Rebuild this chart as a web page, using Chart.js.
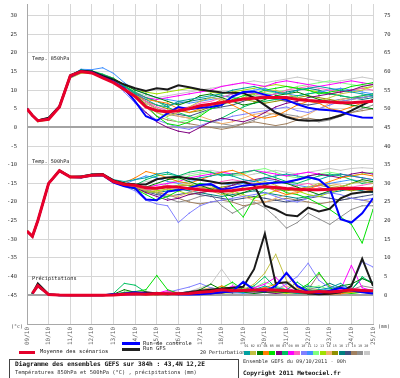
<!DOCTYPE html>
<html>
<head>
<meta charset="utf-8">
<script src="https://cdn.jsdelivr.net/npm/chart.js@4.4.0/dist/chart.umd.min.js"></script>
<style>
  html, body { margin: 0; padding: 0; background: #fff; }
  #wrap { position: relative; width: 400px; height: 378px; overflow: hidden; font-family: "DejaVu Sans Mono", monospace; color: #222; }
  #wrap canvas { position: absolute; left: 0; top: 0; }
  .t { position: absolute; white-space: nowrap; line-height: 1; }
  .bar { position: absolute; }
  #title { position: absolute; left: 9px; top: 359px; width: 230px; height: 24px; border: 1px solid #444; box-sizing: border-box; }
</style>
</head>
<body>
<div id="wrap">
  <canvas id="chart" width="400" height="350"></canvas>
  <div class="t" style="left:32px;top:56px;font-size:5.2px">Temp. 850hPa</div>
  <div class="t" style="left:32px;top:159px;font-size:5.2px">Temp. 500hPa</div>
  <div class="t" style="left:32px;top:276px;font-size:5.3px">Précipitations</div>
  <div class="t" style="left:11px;top:324px;font-size:5px;color:#444">(°c)</div>
  <div class="t" style="left:378px;top:324px;font-size:5px;color:#444">(mm)</div>

  <div class="bar" style="left:19px;top:351px;width:16px;height:3px;background:#e4002b"></div>
  <div class="t" style="left:40px;top:349px;font-size:5.4px">Moyenne des scénarios</div>
  <div class="bar" style="left:122px;top:342px;width:18px;height:3px;background:#0000ff"></div>
  <div class="bar" style="left:122px;top:348px;width:18px;height:3px;background:#222"></div>
  <div class="t" style="left:143px;top:341px;font-size:5.4px">Run de controle</div>
  <div class="t" style="left:143px;top:346px;font-size:5.4px">Run GFS</div>
  <div class="t" style="left:200px;top:350px;font-size:5px">20 Perturbations</div>
  <div id="boxes"></div>

  <div id="title"></div>
  <div class="t" style="left:15px;top:361px;font-size:6.2px;font-weight:bold;color:#111">Diagramme des ensembles GEFS sur 384h : 43,4N 12,2E</div>
  <div class="t" style="left:15px;top:370px;font-size:5.4px;color:#333">Températures 850hPa et 500hPa (°C) , précipitations (mm)</div>
  <div class="t" style="left:243px;top:359px;font-size:5.2px;color:#333">Ensemble GEFS du 09/10/2011 - 00h</div>
  <div class="t" style="left:243px;top:370px;font-size:6px;font-weight:bold;color:#111">Copyright 2011 Meteociel.fr</div>
</div>
<script>
// forecast hours (h0, h6, then every 12h up to 384h)
const hours = [0, 6, 12, 24, 36, 48, 60, 72, 84, 96, 108, 120, 132, 144, 156, 168, 180, 192,
  204, 216, 228, 240, 252, 264, 276, 288, 300, 312, 324, 336, 348, 360, 372, 384];
const dayLabels = ['09/10', '10/10', '11/10', '12/10', '13/10', '14/10', '15/10', '16/10', '17/10',
  '18/10', '19/10', '20/10', '21/10', '22/10', '23/10', '24/10', '25/10'];
const leftTicks = [30, 25, 20, 15, 10, 5, 0, -5, -10, -15, -20, -25, -30, -35, -40, -45];
const rightTicks = [75, 70, 65, 60, 55, 50, 45, 40, 35, 30, 25, 20, 15, 10, 5, 0];
const memberNames = ['01','02','03','04','05','06','07','08','09','10','11','12','13','14','15','16','17','18','19','20'];
const memberColors = ['#00a0a0','#c0c040','#008000','#ff8000','#00e000','#800080','#00c060','#ff00ff','#ff60c0','#8080ff',
  '#4090ff','#80ff80','#a0e000','#f0b070','#909000','#008080','#405080','#a08060','#909090','#c8c8c8'];

// 850 hPa temperature (°C)
const t850Mean = [5,3.2,1.8,2.2,5.5,13.8,15,14.6,13.3,12,10.2,8.3,5.5,4.5,4.2,4.5,5,5.8,6.2,6.7,7.1,7.6,7.8,8,8,8,7.5,7.2,7,6.8,6.6,6.6,6.8,7];
const t850Ctrl = [5,3.2,1.8,2.3,5.5,13.6,15,14.8,13.5,12.3,10.5,7,3,1.8,3.8,5.5,4.9,5.3,5.5,6,8.3,9.5,9.6,8.8,8,7.4,6.2,5.3,4.8,4.6,4.2,3.3,2.7,2.6];
const t850Gfs = [5,3.3,1.9,2.6,5.7,14,15.2,15,13.8,12.8,11.5,10.5,9.8,10.5,10.2,11.3,10.8,10.2,9.8,9.4,9.3,9.2,8,6,4,2.8,2,1.8,1.9,2.4,3.2,4.5,6,7.4];
const t850Perts = [
  [5,3.3,2,2.5,5.8,14,15.5,15,14,13,11, 9,7.5,6,5.5,7,7.5,8,8.5,9,10,10.5,11,10,9.5,9,10,10.5,11,10.5,10,9.5,9,8.5],
  [5,3.1,1.5,2,5.2,13.2,14.5,14.5,13.5,12,10, 8,6,4,3,4,5.5,7,8,7.5,7,8,9,9.5,10,9,8,7.5,7,8,9,9.5,10,11],
  [5,3.2,1.8,2.4,5.5,13.6,15,15,14,13,11.5, 10,9,8,7,6,7,8.5,9,8,7,6,6.5,7.5,8.5,9,9.5,8.5,7.5,7,6.5,6,5.5,5],
  [5,3.3,2,2.6,5.6,13.7,15.2,14.8,13.2,12,10.5, 8.5,7.5,7,6.5,5,4,5,6,7.5,6,4.5,3,2.5,3,4.5,6,7,6.5,5,4.5,5.5,6.5,7.5],
  [5,3.1,1.6,2.1,5.2,13.4,14.8,14.6,13.8,12.8,11, 9,6,3,1,0.5,1.5,3,5,6,7.5,8.5,9,10,10.5,11,10.5,10,9,9.5,10,11,11.5,12],
  [5,3.2,1.8,2.2,5.3,13.5,15,14.5,13.5,12.3,10, 7,4,1.5,0,-1,-1.5,0,1.5,2.5,2,1.5,2.5,4,5.5,6.5,7,8,8.5,9,9.5,10,11,11.5],
  [5,3.3,2,2.5,5.6,13.7,15.1,15.2,14.3,13.2,11.2, 9.5,8,7,5.5,4,3,2,1.5,2.5,4,5.5,6.5,7,7.5,8,8.5,9,9.5,9,8.5,8,8.5,9],
  [5,3.2,1.7,2.3,5.5,13.6,15,14.9,14,13,11, 9,8,7.5,8,8.5,9,9.5,10,11,11.5,12,11.5,11,12,12.5,12,11.5,11,11.5,12,12.5,12,11.5],
  [5,3.3,1.9,2.4,5.6,13.7,15.3,15.1,13.9,12.7,10.8, 8.8,7,5.5,4.5,5,5.5,6.5,7,8,9,9.5,9,8.5,9,10,10.5,11,10.5,10,9.5,10,10.5,10],
  [5,3.2,1.8,2.2,5.4,13.5,15,14.7,13.5,12.2,9.5, 6.5,4,2,1,0,-0.5,0.5,1.5,2,3,3.5,4,4.5,5,5.5,4.5,4,5,6,7,7.5,8,8.5],
  [5,3.3,2,2.6,5.8,13.9,15.6,15.5,16,14.5,12, 10,9,8,7.5,7,6.5,7,7.5,8,9,9.5,10,10.5,9.5,9,8.5,9,9.5,10,10.5,10,9.5,9],
  [5,3.1,1.7,2.2,5.2,13.3,14.8,14.6,13.6,12.5,10.5, 8,6,4,2.5,1.5,2,3.5,5,6,7,8,8.5,9,9.5,10,11,11.5,12,12.5,12,11.5,11,11.5],
  [5,3.3,1.9,2.5,5.7,13.9,15.3,15,14.2,13.2,11.5, 10,9.5,9,9.5,10,10.5,10,9.5,9,9.5,10,10.5,11,11.5,11,10.5,10,9.5,9,9.5,10,10.5,11],
  [5,3.2,1.8,2.3,5.5,13.6,15,15,14,12.8,10.8, 8.5,6.5,5,4,3,2.5,3,2,1,1.5,2.5,3.5,4,3.5,3,2.5,3.5,5,6.5,7.5,8,8.5,9],
  [5,3.2,1.8,2.4,5.5,13.6,15.1,14.9,13.8,12.6,10.6, 8.6,7,6,5,4.5,4,4.5,5.5,6.5,7,7.5,7,6.5,7,7.5,8,8.5,8,7.5,7,7.5,8,8.5],
  [5,3.3,2,2.4,5.6,13.7,15.1,14.9,13.9,12.9,11.2, 9.2,8,7,6,6.5,7,7.5,8,8.5,8,7.5,8,8.5,9,9.5,10,10.5,10,9,8.5,8,7.5,8],
  [5,3.2,1.8,2.3,5.4,13.5,14.9,14.7,13.7,12.4,10.4, 8.4,6.5,5,4,3.5,3,4,5,5.5,6,7,8,8,7.5,7,6.5,6,6.5,7,7.5,8,8,8.5],
  [5,3.2,1.8,2.3,5.5,13.6,15,14.8,13.8,12.5,10.5, 8,5.5,3,2,1.5,1,0.5,0,-0.5,0,1,1.5,1,0.5,1,2,2.5,2,2.5,3.5,4,4.5,5],
  [5,3.3,1.9,2.4,5.6,13.7,15.2,15,14,12.9,11, 9,7,5,3.5,3,2.5,2,1.5,1,0.5,1,2,3,4,3.5,3,2,1.5,2,3,4,5,6],
  [5,3.2,1.8,2.3,5.5,13.6,15,15,14.2,13,11, 9.5,8.5,8,8.5,9,9.5,10,10.5,11,11.5,12,12.5,12,12.5,13,13.5,13,12.5,12,12.5,13,13.5,13]
];

// 500 hPa temperature (°C)
const t500Mean = [-27.8,-29.2,-25,-15,-11.6,-13.3,-13.3,-12.8,-12.7,-14.5,-15.3,-15.5,-16.2,-16.3,-15.9,-16,-16.4,-16.7,-17,-17.1,-16.9,-16.6,-16.2,-15.9,-16.1,-16.4,-16.6,-16.7,-16.7,-16.6,-16.4,-16.4,-16.4,-16.5];
const t500Ctrl = [-27.8,-29.2,-25,-15,-11.7,-13.3,-13.4,-12.9,-12.8,-14.8,-15.8,-16.3,-19.3,-19.5,-17.2,-16.8,-16.2,-15.4,-15.2,-16.7,-16.2,-15.6,-15.3,-15,-14.8,-14.6,-14,-13.3,-14,-16.4,-24.6,-25.5,-23,-19];
const t500Gfs = [-27.8,-29.3,-25,-15,-11.5,-13.2,-13.2,-12.6,-12.5,-14.2,-15,-15.2,-15.3,-13.9,-13.4,-13.2,-13.7,-14,-14.5,-15,-14.8,-14.6,-15.5,-21,-22,-23.5,-23.8,-21.5,-22.5,-21.8,-19,-17.8,-17.4,-17.2];
const t500Perts = [
  [-28,-29.3,-25.2,-15.2,-11.8,-13.2,-13,-12.5,-12.5,-14,-14.5, -14,-13.5,-12.5,-12,-13,-14,-13.5,-13,-12.5,-13, -14,-14.5,-13.5,-13,-12.5,-13,-13.5,-14,-13,-12.5, -13,-13.5,-14],
  [-27.6,-29,-24.8,-14.8,-11.5,-13.5,-13.5,-13,-13,-14.8,-15.5, -16,-17,-17.5,-16.5,-15.5,-15,-16,-17,-18,-17.5, -16,-15,-14.5,-15.5,-16.5,-17,-16,-15,-15.5,-16, -15,-14.5,-15],
  [-27.8,-29.2,-25,-15,-11.6,-13.4,-13.4,-12.9,-12.8,-14.4,-15, -15.5,-16,-15,-14,-13.5,-14.5,-15.5,-16.5,-17.5,-18.5, -17.5,-16.5,-15.5,-14.5,-15,-16,-17,-18,-17,-16, -15,-14,-14.5],
  [-27.7,-29.1,-24.9,-14.9,-11.6,-13.1,-13.2,-12.7,-12.6,-14.2,-14.8, -13.5,-11.8,-12.5,-13.5,-14.5,-15,-14,-13,-12,-11.5, -12.5,-14,-15.5,-17,-18,-17.5,-16.5,-15.5,-14.5,-13.5, -13,-12.5,-13],
  [-27.9,-29.3,-25.1,-15.1,-11.8,-13.3,-13.4,-12.9,-12.9,-14.7,-15.7, -16.5,-18,-19.5,-18.5,-17,-16,-15,-15.5,-17,-21, -24,-19,-16.5,-16,-17.5,-18,-19,-20.5,-22,-24, -26,-31,-22],
  [-27.8,-29.2,-25,-15,-11.7,-13.2,-13.3,-12.8,-12.7,-14.6,-15.4, -16,-17.5,-18.5,-19.5,-19,-18,-17.5,-17,-16.5,-15.5, -14.5,-14,-13.5,-14,-15,-14,-13,-12.5,-13,-13.5, -12.5,-12,-12.5],
  [-27.8,-29.2,-25,-15,-11.6,-13.3,-13.3,-12.7,-12.6,-14.3,-15, -15.5,-14,-13,-12.5,-13,-12,-11.5,-12,-13,-12.5, -12,-11.5,-12.5,-13.5,-14.5,-15,-14,-13,-12.5,-13, -14,-15,-14.5],
  [-27.7,-29.1,-24.9,-14.9,-11.5,-13.2,-13.2,-12.6,-12.5,-14.3,-15.1, -15.8,-16,-15.5,-15,-14.5,-13.5,-13,-12.5,-12,-12.5, -12,-11.5,-12,-12.5,-13,-12.5,-12,-12.5,-13,-12.5, -13,-13.5,-14],
  [-27.8,-29.2,-25,-15,-11.7,-13.4,-13.4,-12.8,-12.7,-14.5,-15.4, -16.2,-16.8,-16,-15.5,-16,-16.5,-16,-15.5,-14.5,-14, -14.5,-15,-16,-17,-16.5,-15.5,-15,-16,-17,-16.5, -16,-15.5,-15],
  [-27.9,-29.3,-25.1,-15.1,-11.7,-13.3,-13.4,-12.9,-12.9,-14.8,-15.8, -17,-19.5,-20.5,-21,-25.5,-23,-21,-20,-19.5,-19, -18.5,-18,-17.5,-18.5,-19.5,-20,-19,-18,-17.5,-18, -19,-19.5,-19],
  [-27.8,-29.2,-25,-15,-11.7,-13.3,-13.3,-12.8,-12.7,-14.5,-15.2, -14,-13,-13.5,-14.5,-15,-14.5,-14,-14.5,-15,-15.5, -15,-14.5,-14,-14.5,-15,-15.5,-16,-15.5,-15,-14.5, -14,-14.5,-15],
  [-27.6,-29,-24.8,-14.8,-11.5,-13.1,-13.1,-12.6,-12.5,-14.2,-14.9, -15.5,-16,-16.5,-15,-14,-13,-12.5,-12,-12.5,-13, -12.5,-11.5,-11,-12,-13,-13.5,-13,-12.5,-12,-12.5, -13,-12.5,-12],
  [-27.9,-29.3,-25.1,-15.1,-11.8,-13.4,-13.5,-13,-12.9,-14.7,-15.6, -16.5,-17.5,-17,-16.5,-17,-18,-17.5,-17,-16.5,-17, -18,-19,-18,-17,-16.5,-17,-18,-18.5,-17.5,-16.5, -16,-16.5,-17],
  [-27.8,-29.2,-25,-15,-11.7,-13.3,-13.3,-12.7,-12.6,-14.4,-15.2, -15.8,-16.5,-17,-18,-18.5,-17.5,-16.5,-16,-16.5,-17.5, -18.5,-19.5,-20,-19,-18,-17,-16,-15.5,-15,-15.5, -16,-16.5,-17],
  [-27.7,-29.1,-24.9,-14.9,-11.6,-13.2,-13.2,-12.7,-12.6,-14.4,-15.2, -16,-16.8,-16.5,-16,-15.5,-15.5,-16,-16.5,-16,-15.5, -15,-15.5,-16,-16.5,-17,-16.5,-16,-15.5,-16,-16.5, -17,-16.5,-16],
  [-27.8,-29.2,-25,-15,-11.7,-13.3,-13.3,-12.8,-12.7,-14.5,-15.3, -16,-17,-17.5,-17,-16.5,-17,-17.5,-18,-18.5,-18, -17.5,-17,-17.5,-18,-18.5,-19,-18.5,-18,-17.5,-17, -16.5,-17,-17.5],
  [-27.9,-29.3,-25.1,-15.1,-11.8,-13.4,-13.4,-12.9,-12.8,-14.6,-15.5, -16.3,-17.2,-18,-18.5,-18,-17.5,-18,-18.5,-19,-19.5, -19,-18.5,-19,-19.5,-20,-19.5,-19,-18.5,-19,-19.5, -19,-18.5,-18],
  [-27.8,-29.2,-25,-15,-11.7,-13.3,-13.3,-12.8,-12.7,-14.5,-15.3, -16.2,-17,-17.5,-18,-19,-20,-20.5,-20,-19.5,-20, -21,-20.5,-20,-19.5,-19,-19.5,-20,-20.5,-20,-19.5, -19,-19.5,-20],
  [-27.8,-29.2,-25,-15,-11.6,-13.2,-13.3,-12.8,-12.7,-14.5,-15.3, -16,-16.5,-17.5,-19,-20,-19.5,-18.5,-18,-21,-23, -21.5,-20,-21.5,-24,-27,-25.5,-23,-24.5,-26,-24, -22,-21,-21],
  [-27.7,-29.1,-24.9,-14.9,-11.6,-13.2,-13.2,-12.7,-12.6,-14.3,-15, -15.2,-14.5,-14,-13.5,-13,-12.5,-12,-11.5,-12,-12.5, -13,-12.5,-12,-11.5,-12,-12.5,-12,-11.5,-11,-11.5, -11,-10.8,-11]
];

// precipitation (mm), right axis
const rrMean = [null,0.5,2.6,0.2,0.05,0,0,0,0,0.1,0.3,0.4,0.3,0.5,0.4,0.4,0.5,0.8,1,1.5,1.2,1.3,1.4,1.5,1.4,1.2,1,0.8,1,0.9,1.1,1.5,1.3,1.2];
const rrCtrl = [null,0.5,2.5,0.2,0,0,0,0,0,0.3,0.5,0.8,0.5,0.3,0.5,0.3,0.2,0.3,0.5,0.8,1,3.6,1.5,1,2.5,6,2.5,1,0.6,1.2,2,1.3,0.8,0.5];
const rrGfs = [null,0.5,3.2,0.3,0,0,0,0,0,0.2,0.4,0.6,0.8,0.5,0.3,0.5,0.8,1.2,1.5,1.8,2,2.3,7,16.5,3.2,3.5,1.3,0.5,0.3,0.4,0.8,2.5,9.8,2.5];
const rrPerts = [
  [null,0.5,2.2,0.2,0,0,0,0,0,0.2,0.5, 0.3,0.2,0.4,0.3,0.2,0.5,0.8,1,1.5,1, 0.8,1.5,2.5,1.5,1,0.5,0.8,1.5,2,3.2, 1.5,1,0.8],
  [null,0.5,2.5,0.2,0,0,0,0,0,0.1,0.2, 0.3,0.2,0.1,0.2,0.5,0.3,0.5,0.8,1.5,2, 1.5,3,6,11,4,1.5,0.8,0.5,0.8,1, 1.2,0.8,0.5],
  [null,0.5,2.8,0.3,0,0,0,0,0,0.3,1.5, 0.8,0.3,0.2,0.3,0.2,0.3,1.5,3,1.5,1.2, 0.8,0.5,0.8,1,0.8,0.5,0.4,0.6,1.2,2.5, 3,4.5,3.2],
  [null,0.5,2.3,0.2,0,0,0,0,0,0,0.2, 0.4,0.2,0.1,0.3,0.2,0.4,0.6,1.2,2.5,1.5, 1,1.5,2,3,5.8,2,1,0.5,0.3,0.4, 0.8,1.2,1],
  [null,0.5,2.4,0.2,0,0,0,0,0,0.2,0.8, 1,1.5,5.3,1.5,0.5,0.3,0.4,0.8,2,3.5, 1.5,1,1.5,1.2,0.8,1.5,3,6.1,2,0.8, 0.5,0.8,0.6],
  [null,0.5,2.6,0.3,0,0,0,0,0,0.1,0.2, 0.3,0.5,0.4,0.3,0.2,0.3,0.5,0.4,0.6,1, 1.5,1,0.8,0.5,0.8,1.2,0.8,0.5,0.4,0.6, 1,1.5,1.2],
  [null,0.5,2.7,0.2,0,0,0,0,0,0.5,3.2, 2.7,0.8,0.5,0.3,0.2,0.3,0.5,1,1.5,2, 1.5,2.5,5,2,1.5,3.5,1.5,0.8,0.5,1, 1.5,5,3],
  [null,0.5,2.4,0.2,0,0,0,0,0,0,0.1, 0.2,0.3,0.5,1.3,0.5,0.3,0.5,0.8,1.2,2.5, 1.5,2,3,4.8,2,1,0.8,0.5,0.8,1.5, 8,2,1.2],
  [null,0.5,2.5,0.2,0,0,0,0,0,0,0.1, 0.2,0.2,0.3,1,0.8,0.5,0.8,1,1.5,1.2, 1,0.8,1,1.5,1.2,0.8,0.5,0.8,1,1.5, 2,1.5,1],
  [null,0.5,2.3,0.2,0,0,0,0,0,0,0.1, 0.3,0.5,0.5,0.8,1.5,2.2,3.2,2,1.5,1, 0.8,0.5,0.8,1.5,3,5,8.6,4,2,1.5, 2.5,9,7.6],
  [null,0.5,2.6,0.2,0,0,0,0,0,0.1,0.3, 0.5,0.4,0.3,0.2,0.3,0.5,1,1.5,1.2,0.8, 0.5,0.8,1.2,2,1.5,1,0.8,1.2,1.8,2.5, 1.8,1.2,1],
  [null,0.5,2.4,0.2,0,0,0,0,0,0.2,0.5, 0.8,0.5,0.3,0.2,0.3,0.4,0.8,1.5,2.5,1.8, 1.2,2,3.5,2.5,1.5,1,2,2.5,1.5,1, 0.8,1.5,1.2],
  [null,0.5,2.2,0.2,0,0,0,0,0,0,0.2, 0.4,0.3,0.2,0.3,0.4,0.6,0.8,0.6,0.5,0.8, 1.2,1.5,1.2,0.8,0.5,0.8,1.2,1.5,1,0.8, 0.6,0.8,0.5],
  [null,0.5,2.6,0.2,0,0,0,0,0,0,0.2, 0.3,0.2,0.3,0.2,0.4,0.8,1.5,2,1.2,0.8, 1,1.5,2,1.5,2.5,1.5,1,0.8,0.5,0.8, 1,0.8,0.5],
  [null,0.5,2.5,0.3,0,0,0,0,0,0.1,0.3, 0.2,0.3,0.2,0.4,0.3,0.5,0.7,1,0.8,1.5, 2,1.5,1,0.8,1,1.2,1.5,1,0.8,1.2, 1.5,1,0.8],
  [null,0.5,2.4,0.2,0,0,0,0,0,0.2,0.4, 0.6,0.4,0.3,0.2,0.3,0.4,0.6,0.8,1,1.2, 0.8,1,1.5,1.2,1,1.5,2.5,2,3.2,2, 1.5,4.5,3.5],
  [null,0.5,2.3,0.2,0,0,0,0,0,0,0.1, 0.2,0.3,0.2,0.3,0.5,1,1.5,1,0.8,0.6, 0.8,1.2,0.8,0.6,0.8,1,1.5,1.2,1,0.8, 1.2,1.5,1],
  [null,0.5,2.5,0.2,0,0,0,0,0,0,0.1, 0.2,0.3,0.4,0.5,0.4,0.6,0.8,1.2,1.5,1.2, 1,1.5,2,1.5,1,0.8,1.5,5.7,2.5,1.5, 1,0.8,0.6],
  [null,0.5,2.6,0.2,0,0,0,0,0,0,0.1, 0.2,0.5,0.8,0.5,0.3,0.5,1,2,1.5,1, 1.2,2,1.5,1,0.8,1.2,2,1.5,1,0.8, 1.5,2.5,2],
  [null,0.5,2.4,0.2,0,0,0,0,0,0,0.1, 0.2,0.3,0.2,0.4,0.6,1,2,3,7,3, 1.5,1,0.8,0.6,0.8,1,1.2,0.8,0.6,0.8, 1,1.5,1.2]
];

// legend colour boxes
const boxes = document.getElementById('boxes');
memberNames.forEach((name, i) => {
  const x = 244 + i * 6.3;
  boxes.insertAdjacentHTML('beforeend',
    `<div class="bar" style="left:${x}px;top:351px;width:6px;height:4px;background:${memberColors[i]}"></div>` +
    `<div class="t" style="left:${x + 0.5}px;top:345px;font-size:3.4px;color:#444">${name}</div>`);
});

const yMin = -52.7, yMax = 33.1, rrShift = 45;

function pts(vals) {
  return vals.map((v, i) => ({ x: hours[i], y: v }));
}
function line(vals, color, width, order, axis) {
  return {
    data: pts(vals), yAxisID: axis, borderColor: color, backgroundColor: color,
    borderWidth: width, order: order,
    pointRadius: width > 1 ? 0 : 0.7, pointBorderWidth: 0, pointBackgroundColor: color
  };
}

const datasets = [];
datasets.push(line(t850Mean, '#e8002a', 3, 0, 'y'));
datasets.push(line(t500Mean, '#e8002a', 3, 0, 'y'));
datasets.push(line(rrMean, '#e8002a', 3, 0, 'y2'));
datasets.push(line(t850Ctrl, '#0000ff', 2, 1, 'y'));
datasets.push(line(t500Ctrl, '#0000ff', 2, 1, 'y'));
datasets.push(line(rrCtrl, '#0000ff', 2, 1, 'y2'));
datasets.push(line(t850Gfs, '#1a1a1a', 2, 2, 'y'));
datasets.push(line(t500Gfs, '#1a1a1a', 2, 2, 'y'));
datasets.push(line(rrGfs, '#1a1a1a', 2, 2, 'y2'));
memberColors.forEach((c, i) => {
  datasets.push(line(t850Perts[i], c, 1, 3, 'y'));
  datasets.push(line(t500Perts[i], c, 1, 3, 'y'));
  datasets.push(line(rrPerts[i], c, 1, 3, 'y2'));
});

const tickFont = { family: 'DejaVu Sans Mono', size: 5.5 };
const isHeavy = v => v === 0 || v === -45;

new Chart(document.getElementById('chart'), {
  type: 'line',
  data: { datasets: datasets },
  options: {
    responsive: false,
    animation: false,
    devicePixelRatio: 1,
    layout: { padding: 0 },
    elements: { line: { tension: 0 } },
    plugins: { legend: { display: false }, tooltip: { enabled: false } },
    scales: {
      x: {
        type: 'linear', min: 0, max: 384,
        ticks: {
          stepSize: 24, autoSkip: false, maxRotation: 90, minRotation: 90, padding: 3,
          font: { family: 'DejaVu Sans Mono', size: 6 }, color: '#666',
          callback: v => dayLabels[Math.round(v / 24)]
        },
        grid: { color: '#d6d6d6', lineWidth: 1, drawTicks: false },
        border: { display: true, color: '#a8a8a8' },
        afterFit: s => { s.height = 26; s.paddingLeft = 0; s.paddingRight = 0; }
      },
      y: {
        position: 'left', min: yMin, max: yMax,
        afterBuildTicks: s => { s.ticks = leftTicks.map(v => ({ value: v })); },
        ticks: { padding: 10, font: tickFont, color: '#333' },
        grid: {
          drawTicks: false,
          color: c => (isHeavy(c.tick.value) ? '#a4a4a4' : '#d6d6d6'),
          lineWidth: c => (isHeavy(c.tick.value) ? 2 : 1)
        },
        border: { display: true, color: '#a8a8a8' },
        afterFit: s => { s.width = 27; s.paddingTop = 0; s.paddingBottom = 0; }
      },
      y2: {
        position: 'right', min: yMin + rrShift, max: yMax + rrShift,
        afterBuildTicks: s => { s.ticks = rightTicks.map(v => ({ value: v })); },
        ticks: { padding: 11, font: tickFont, color: '#333' },
        grid: { drawOnChartArea: false, drawTicks: false },
        border: { display: false },
        afterFit: s => { s.width = 27; s.paddingTop = 0; s.paddingBottom = 0; }
      }
    }
  }
});
</script>
</body>
</html>
